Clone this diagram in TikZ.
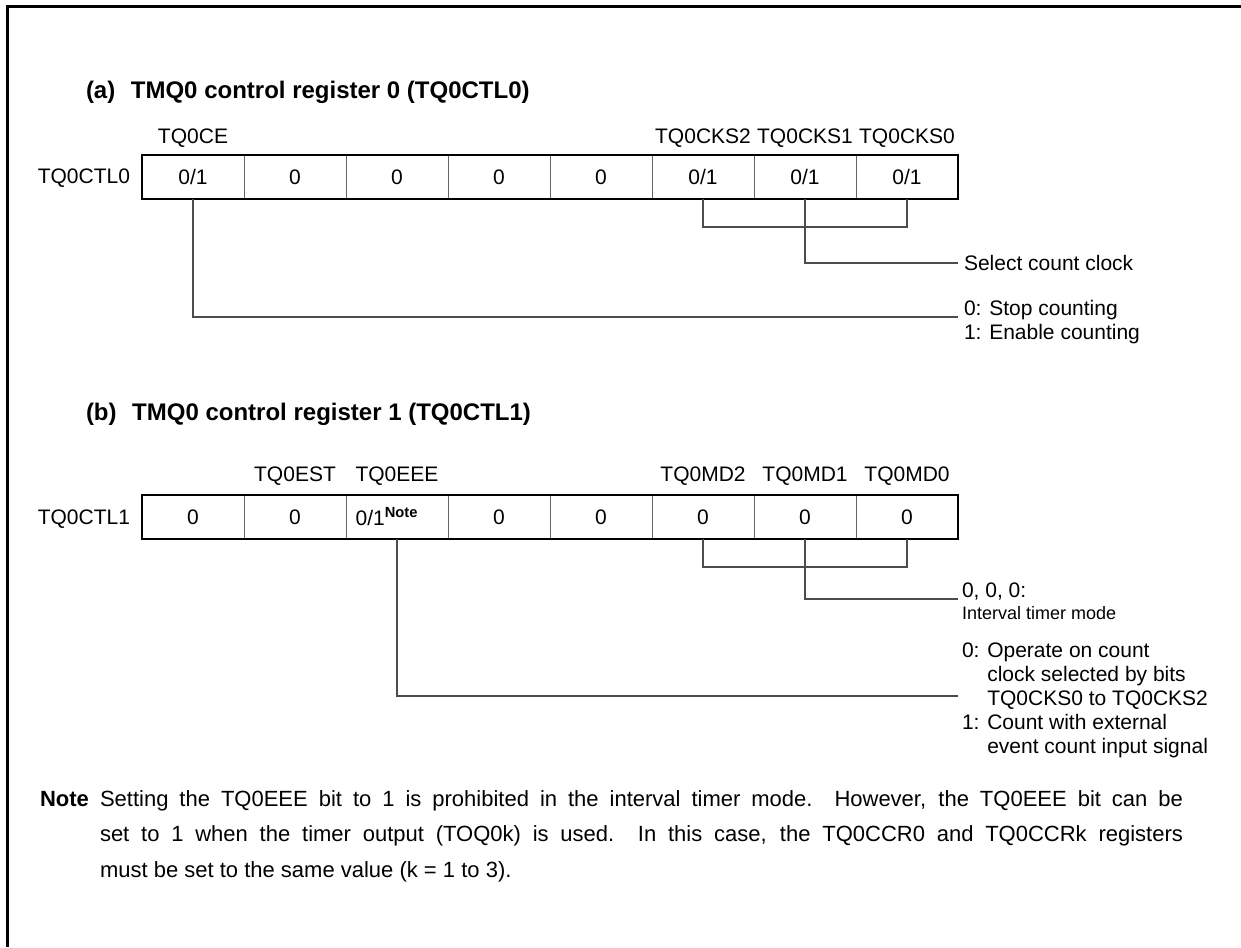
\documentclass[tikz,border=0pt]{standalone}
\usepackage{fontspec}
\setmainfont{Liberation Sans}
\begin{document}
\begin{tikzpicture}[x=0.5pt,y=-0.5pt,
  every node/.style={inner sep=0pt,outer sep=0pt},
  txt/.style={font=\fontsize{10.5}{12}\selectfont},
  small/.style={font=\fontsize{9}{10}\selectfont},
  cell/.style={draw=black!60,line width=0.5pt,minimum width=51pt,minimum height=22pt,font=\fontsize{10.5}{12}\selectfont},
  ttl/.style={font=\fontsize{12}{14}\selectfont\bfseries,anchor=base west},
  lead/.style={draw=black!70,line width=0.6pt},
  frameline/.style={line width=1.5pt},
  outerbox/.style={draw=black,line width=1.1pt}]
\useasboundingbox (0,0) rectangle (1241,947);
\draw[frameline] (1241,7) -- (7,7) -- (7,947);

% ---------- (a)
\node[ttl] (ta) at (86,98) {(a)\hspace{0.65em}TMQ0 control register 0 (TQ0CTL0)};
\node[txt,anchor=base east] (rega) at (130,184) {TQ0CTL0};
\node[cell] (a1) at (193,177) {0/1};
\node[cell] (a2) at (295,177) {0};
\node[cell] (a3) at (397,177) {0};
\node[cell] (a4) at (499,177) {0};
\node[cell] (a5) at (601,177) {0};
\node[cell] (a6) at (703,177) {0/1};
\node[cell] (a7) at (805,177) {0/1};
\node[cell] (a8) at (907,177) {0/1};
\draw[outerbox] (a1.north west) rectangle (a8.south east);
\node[txt,anchor=base] (la1) at (193,143) {TQ0CE};
\node[txt,anchor=base] (la6) at (703,143) {TQ0CKS2};
\node[txt,anchor=base] (la7) at (805,143) {TQ0CKS1};
\node[txt,anchor=base] (la8) at (907,143) {TQ0CKS0};

\coordinate (bra) at (805,227);
\draw[lead] (a6.south) -- (a6.south |- bra) -- (a8.south |- bra) -- (a8.south);
\node[txt,anchor=base west] (sel) at (964,270) {Select count clock};
\coordinate (selend) at (958,263);
\draw[lead] (a7.south) |- (selend);
\node[txt,anchor=base west] (ce) at (964,315) {\begin{tabular}[t]{@{}l@{}}0: Stop counting\\1: Enable counting\end{tabular}};
\coordinate (ceend) at (958,317);
\draw[lead] (a1.south) |- (ceend);

% ---------- (b)
\node[ttl] (tb) at (86,420) {(b)\hspace{0.65em}TMQ0 control register 1 (TQ0CTL1)};
\node[txt,anchor=base east] (regb) at (130,524) {TQ0CTL1};
\node[cell] (b1) at (193,517) {0};
\node[cell] (b2) at (295,517) {0};
\node[cell] (b3) at (397,517) {\hspace*{-10pt}0/1\textsuperscript{\bfseries Note}};
\node[cell] (b4) at (499,517) {0};
\node[cell] (b5) at (601,517) {0};
\node[cell] (b6) at (703,517) {0};
\node[cell] (b7) at (805,517) {0};
\node[cell] (b8) at (907,517) {0};
\draw[outerbox] (b1.north west) rectangle (b8.south east);
\node[txt,anchor=base] (lb2) at (295,481) {TQ0EST};
\node[txt,anchor=base] (lb3) at (397,481) {TQ0EEE};
\node[txt,anchor=base] (lb6) at (703,481) {TQ0MD2};
\node[txt,anchor=base] (lb7) at (805,481) {TQ0MD1};
\node[txt,anchor=base] (lb8) at (907,481) {TQ0MD0};

\coordinate (brb) at (805,567);
\draw[lead] (b6.south) -- (b6.south |- brb) -- (b8.south |- brb) -- (b8.south);
\node[txt,anchor=base west] (md) at (962,597) {0, 0, 0:};
\node[small,anchor=base west] (itm) at (962,619) {Interval timer mode};
\coordinate (mdend) at (958,599);
\draw[lead] (b7.south) |- (mdend);
\node[txt,anchor=base west] (eee) at (962,657) {\begin{tabular}[t]{@{}l@{ }l@{}}0: & Operate on count\\ & clock selected by bits\\ & TQ0CKS0 to TQ0CKS2\\ 1: & Count with external\\ & event count input signal\end{tabular}};
\coordinate (eeeend) at (958,696);
\draw[lead] (b3.south) |- (eeeend);

% ---------- Note
\node[anchor=base west,font=\fontsize{11}{13}\selectfont\bfseries] (notel) at (40,806) {Note};
\node[anchor=base west,font=\fontsize{11}{17.75}\selectfont] (notet) at (100,806) {\parbox[t]{541.5pt}{\hbadness=10000 Setting the TQ0EEE bit to 1 is prohibited in the interval timer mode.\ \ However, the TQ0EEE bit can be\linebreak set to 1 when the timer output (TOQ0k) is used.\ \ In this case, the TQ0CCR0 and TQ0CCRk registers\linebreak must be set to the same value (k = 1 to 3).}};
\end{tikzpicture}
\end{document}
